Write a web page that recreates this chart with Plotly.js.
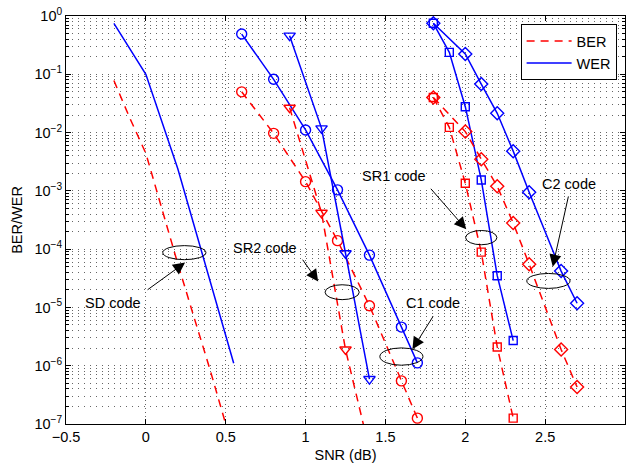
<!DOCTYPE html>
<html><head><meta charset="utf-8">
<script src="https://cdn.plot.ly/plotly-3.0.1.min.js"></script>
<style>html,body{margin:0;padding:0;background:#fff}#chart{width:626px;height:463px}</style>
</head><body><div id="chart"></div>
<script>
// ---- data ----
const snrSDwer = [-0.2, 0, 0.2, 0.4, 0.55];
const werSD    = [0.75, 0.1, 2.4e-3, 2.8e-5, 1.1e-6];
const snrSDber = [-0.2, -0.1, 0, 0.1, 0.2, 0.3, 0.4, 0.5];
const berSD    = [0.078, 0.0176, 4.4e-3, 4.8e-4, 5.6e-5, 7e-6, 8.9e-7, 1.0e-7];

const snrC1 = [0.6, 0.8, 1.0, 1.2, 1.4, 1.6, 1.7];
const werC1 = [0.49, 0.082, 0.0111, 1.04e-3, 7.9e-5, 4.6e-6, 1.12e-6];
const berC1 = [0.050, 9.7e-3, 1.44e-3, 1.4e-4, 1.07e-5, 5.5e-7, 1.26e-7];

const snrSR2 = [0.9, 1.1, 1.25, 1.4];
const werSR2 = [0.46, 0.0118, 8.5e-5, 5.9e-7];
const berSR2 = [0.0267, 4.2e-4, 1.9e-6, 3.6e-8];

const snrSR1 = [1.8, 1.9, 2.0, 2.1, 2.2, 2.3];
const werSR1 = [0.75, 0.238, 0.0278, 1.54e-3, 3.5e-5, 2.7e-6];
const berSR1 = [0.040, 0.0123, 1.35e-3, 8.9e-5, 2.1e-6, 1.26e-7];

const snrC2 = [1.8, 2.0, 2.1, 2.2, 2.3, 2.4, 2.6, 2.7];
const werC2 = [0.75, 0.223, 0.068, 0.0214, 4.8e-3, 9.5e-4, 4.2e-5, 1.18e-5];
const berC2 = [0.040, 0.0104, 3.5e-3, 1.2e-3, 2.8e-4, 5.5e-5, 1.9e-6, 4.3e-7];

const xTickVals = [-0.5, 0, 0.5, 1, 1.5, 2, 2.5, 3];
const xTickText = ['\u22120.5', '0', '0.5', '1', '1.5', '2', '2.5', '3'];
const yTickVals = [1e-7, 1e-6, 1e-5, 1e-4, 1e-3, 1e-2, 1e-1, 1];
const yTickText = ['10<sup>\u22127</sup>', '10<sup>\u22126</sup>', '10<sup>\u22125</sup>', '10<sup>\u22124</sup>',
                   '10<sup>\u22123</sup>', '10<sup>\u22122</sup>', '10<sup>\u22121</sup>', '10<sup>0</sup>'];
const legendNames = ['BER', 'WER'];

const codeLabels = ['SD code', 'SR2 code', 'C1 code', 'SR1 code', 'C2 code'];
// ---- styling ----
const BLUE = '#0000ff', RED = '#ff0000';
const FONT = 'Liberation Sans, Arial, Helvetica, sans-serif';
const DASH = '8px,6px';

function mk(x, y, color, dash, sym, size) {
  const t = {x: x, y: y, type: 'scatter', mode: sym ? 'lines+markers' : 'lines', showlegend: false,
    line: {color: color, width: 1.5}};
  if (dash) t.line.dash = dash;
  if (sym) t.marker = {symbol: sym, size: size, color: color, line: {color: color, width: 1.4}};
  return t;
}
const wer = (x, y, sym, size) => mk(x, y, BLUE, null, sym, size);
const ber = (x, y, sym, size) => mk(x, y, RED, DASH, sym, size);

const traces = [
  ber(snrSDber, berSD, null), wer(snrSDwer, werSD, null),
  ber(snrC1, berC1, 'circle-open', 10), wer(snrC1, werC1, 'circle-open', 10),
  ber(snrSR2, berSR2, 'triangle-down-open', 10), wer(snrSR2, werSR2, 'triangle-down-open', 10),
  ber(snrSR1, berSR1, 'square-open', 8), wer(snrSR1, werSR1, 'square-open', 8),
  ber(snrC2, berC2, 'diamond-open', 10), wer(snrC2, werC2, 'diamond-open', 10),
  {x: [null], y: [null], type: 'scatter', mode: 'lines', name: legendNames[0], line: {color: RED, width: 1.5, dash: DASH}},
  {x: [null], y: [null], type: 'scatter', mode: 'lines', name: legendNames[1], line: {color: BLUE, width: 1.5}}
];

const minorY = [];
for (let e = -7; e < 0; e++) for (let d = 2; d <= 9; d++) minorY.push(d * Math.pow(10, e));

const GRID = 'rgba(0,0,0,0.6)';
const HDASH = '1px,5px';
const VDASH = '1px,3px';

const ellipse = (x0, x1, y0, y1) => ({type: 'circle', xref: 'x', yref: 'y', x0: x0, x1: x1, y0: y0, y1: y1,
  line: {color: '#000', width: 1}});
const arrow = (x, y, ax, ay) => ({x: x, y: y, xref: 'x', yref: 'y', ax: ax, ay: ay, axref: 'pixel', ayref: 'pixel',
  text: '', showarrow: true, arrowhead: 2, arrowsize: 2.4, arrowwidth: 1, arrowcolor: '#000', standoff: 0});
const label = (x, y, t) => ({x: x, y: y, xref: 'x', yref: 'y', text: t, showarrow: false,
  font: {family: FONT, size: 14.5, color: '#000'}});

const layout = {
  width: 626, height: 463,
  margin: {l: 66, r: 1, t: 16, b: 39, pad: 0},
  paper_bgcolor: '#fff', plot_bgcolor: '#fff',
  font: {family: FONT, size: 14.5, color: '#000'},
  showlegend: true,
  legend: {x: 0.985, xanchor: 'right', y: 0.98, yanchor: 'top', bgcolor: '#fff', bordercolor: '#000',
    borderwidth: 1, font: {family: FONT, size: 14.5}, tracegroupgap: 0, itemwidth: 45},
  xaxis: {
    range: [-0.5, 3], tickmode: 'array', tickvals: xTickVals, ticktext: xTickText,
    showline: true, linecolor: '#000', linewidth: 1, mirror: 'allticks',
    ticks: 'inside', ticklen: 5, tickcolor: '#000',
    showgrid: true, gridcolor: GRID, griddash: VDASH, gridwidth: 1, zeroline: false,
    title: {text: 'SNR (dB)', font: {family: FONT, size: 14.5}, standoff: 6},
    tickfont: {family: FONT, size: 14.5}
  },
  yaxis: {
    type: 'log', range: [-7, 0], tickmode: 'array', tickvals: yTickVals, ticktext: yTickText,
    showline: true, linecolor: '#000', linewidth: 1, mirror: 'allticks',
    ticks: 'inside', ticklen: 5, tickcolor: '#000',
    showgrid: true, gridcolor: GRID, griddash: HDASH, gridwidth: 1, zeroline: false,
    minor: {tickmode: 'array', tickvals: minorY, ticks: 'inside', ticklen: 3, tickcolor: '#000',
      showgrid: true, gridcolor: GRID, griddash: HDASH, gridwidth: 1},
    title: {text: 'BER/WER', font: {family: FONT, size: 14.5}, standoff: 8},
    tickfont: {family: FONT, size: 14.5}
  },
  shapes: [
    ellipse(0.106, 0.376, 1.15e-4, 6.6e-5),
    ellipse(1.122, 1.336, 2.45e-5, 1.36e-5),
    ellipse(1.465, 1.735, 2.02e-6, 1.02e-6),
    ellipse(2.002, 2.198, 2.09e-4, 1.19e-4),
    ellipse(2.385, 2.656, 3.83e-5, 2.12e-5)
  ],
  annotations: [
    arrow(0.2456, -4.23, -39, 28.3),
    arrow(1.079, -4.557, -16.6, -23.4),
    arrow(1.669, -5.717, 21.6, -34.3),
    arrow(2.006, -3.659, -36.7, -42),
    arrow(2.5475, -4.30, 16, -71.7),
    label(-0.204, -4.918, codeLabels[0]),
    label(0.746, -3.985, codeLabels[1]),
    label(1.7975, -4.928, codeLabels[2]),
    label(1.552, -2.739, codeLabels[3]),
    label(2.652, -2.882, codeLabels[4])
  ]
};

Plotly.newPlot('chart', traces, layout, {staticPlot: true, displayModeBar: false});
</script>
</body></html>
